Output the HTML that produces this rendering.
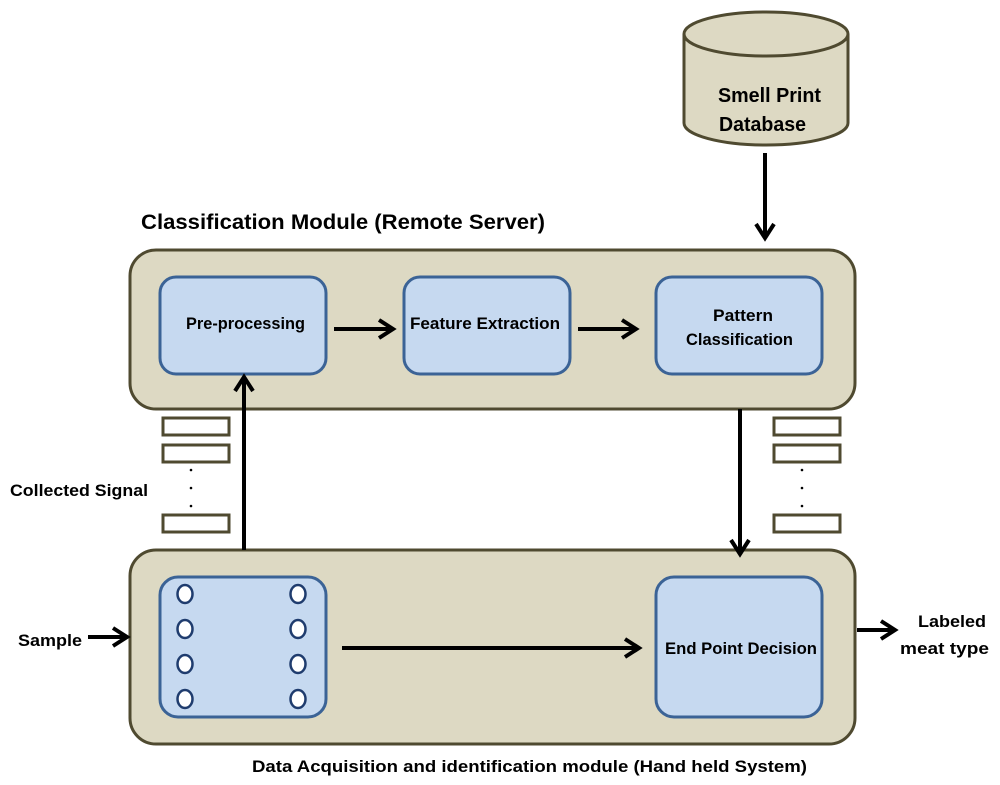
<!DOCTYPE html>
<html><head><meta charset="utf-8"><style>
html,body{margin:0;padding:0;background:#fff;}
svg{display:block;}
text{font-family:"Liberation Sans",sans-serif;font-weight:bold;fill:#000;}
</style></head><body>
<svg width="1000" height="785" viewBox="0 0 1000 785" xmlns="http://www.w3.org/2000/svg">
<g fill="#ddd9c3" stroke="#4f4a30" stroke-width="3">
  <path d="M684,34 L684,123 A82,22 0 0 0 848,123 L848,34"/>
  <ellipse cx="766" cy="34" rx="82" ry="22"/>
  <rect x="130" y="250" width="725" height="159" rx="26"/>
  <rect x="130" y="550" width="725" height="194" rx="26"/>
</g>
<g fill="none" stroke="#4f4a30" stroke-width="3">
  <rect x="163" y="418" width="66" height="17"/>
  <rect x="163" y="445" width="66" height="17"/>
  <rect x="163" y="515" width="66" height="17"/>
  <rect x="774" y="418" width="66" height="17"/>
  <rect x="774" y="445" width="66" height="17"/>
  <rect x="774" y="515" width="66" height="17"/>
</g>
<g fill="#000">
  <circle cx="191" cy="470" r="1.3"/><circle cx="191" cy="488" r="1.3"/><circle cx="191" cy="506" r="1.3"/>
  <circle cx="802" cy="470" r="1.3"/><circle cx="802" cy="488" r="1.3"/><circle cx="802" cy="506" r="1.3"/>
</g>
<g fill="#c6d9f0" stroke="#3b6396" stroke-width="3">
  <rect x="160" y="277" width="166" height="97" rx="16"/>
  <rect x="404" y="277" width="166" height="97" rx="16"/>
  <rect x="656" y="277" width="166" height="97" rx="16"/>
  <rect x="160" y="577" width="166" height="140" rx="18"/>
  <rect x="656" y="577" width="166" height="140" rx="18"/>
</g>
<g fill="#fff" stroke="#1f3c6e" stroke-width="2.5">
  <ellipse cx="185" cy="594" rx="7.5" ry="9"/><ellipse cx="298" cy="594" rx="7.5" ry="9"/>
  <ellipse cx="185" cy="629" rx="7.5" ry="9"/><ellipse cx="298" cy="629" rx="7.5" ry="9"/>
  <ellipse cx="185" cy="664" rx="7.5" ry="9"/><ellipse cx="298" cy="664" rx="7.5" ry="9"/>
  <ellipse cx="185" cy="699" rx="7.5" ry="9"/><ellipse cx="298" cy="699" rx="7.5" ry="9"/>
</g>
<g stroke="#000" stroke-width="4" fill="none">
  <line x1="765" y1="153" x2="765" y2="238"/><polyline points="756,224 765,238 774,224"/>
  <line x1="334" y1="329" x2="393" y2="329"/><polyline points="379,320 393,329 379,338"/>
  <line x1="578" y1="329" x2="636" y2="329"/><polyline points="622,320 636,329 622,338"/>
  <line x1="244" y1="550" x2="244" y2="377"/><polyline points="235,391 244,377 253,391"/>
  <line x1="740" y1="409" x2="740" y2="554"/><polyline points="731,540 740,554 749,540"/>
  <line x1="342" y1="648" x2="639" y2="648"/><polyline points="625,639 639,648 625,657"/>
  <line x1="88" y1="637" x2="127" y2="637"/><polyline points="113,628 127,637 113,646"/>
  <line x1="857" y1="630" x2="895" y2="630"/><polyline points="881,621 895,630 881,639"/>
</g>
<text x="718" y="102" font-size="20" textLength="103" lengthAdjust="spacingAndGlyphs">Smell Print</text>
<text x="719" y="131" font-size="20" textLength="87" lengthAdjust="spacingAndGlyphs">Database</text>
<text x="141" y="229" font-size="21" textLength="404" lengthAdjust="spacingAndGlyphs">Classification Module (Remote Server)</text>
<text x="186" y="329" font-size="17" textLength="119" lengthAdjust="spacingAndGlyphs">Pre-processing</text>
<text x="410" y="329" font-size="17" textLength="150" lengthAdjust="spacingAndGlyphs">Feature Extraction</text>
<text x="713" y="321" font-size="17" textLength="60" lengthAdjust="spacingAndGlyphs">Pattern</text>
<text x="686" y="345" font-size="17" textLength="107" lengthAdjust="spacingAndGlyphs">Classification</text>
<text x="665" y="654" font-size="17" textLength="152" lengthAdjust="spacingAndGlyphs">End Point Decision</text>
<text x="10" y="496" font-size="17" textLength="138" lengthAdjust="spacingAndGlyphs">Collected Signal</text>
<text x="18" y="646" font-size="17" textLength="64" lengthAdjust="spacingAndGlyphs">Sample</text>
<text x="918" y="627" font-size="17" textLength="68" lengthAdjust="spacingAndGlyphs">Labeled</text>
<text x="900" y="654" font-size="17" textLength="89" lengthAdjust="spacingAndGlyphs">meat type</text>
<text x="252" y="772" font-size="17" textLength="555" lengthAdjust="spacingAndGlyphs">Data Acquisition and  identification module (Hand held System)</text>
</svg>
</body></html>
